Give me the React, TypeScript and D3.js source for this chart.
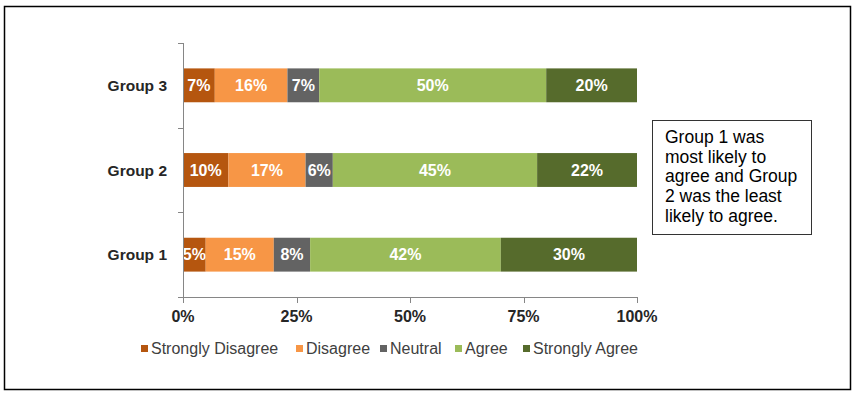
import * as d3 from "d3";
import React, { useEffect, useRef } from "react";

const groups = ["Group 3", "Group 2", "Group 1"];
const responses = ["Strongly Disagree", "Disagree", "Neutral", "Agree", "Strongly Agree"];
const stronglyDisagree = [7, 10, 5];
const disagree = [16, 17, 15];
const neutral = [7, 6, 8];
const agree = [50, 45, 42];
const stronglyAgree = [20, 22, 30];
const xTicks = [0, 25, 50, 75, 100];
const colors = ["#B5560F", "#F79646", "#636363", "#9BBB59", "#566B2C"];
const noteLines = ["Group 1 was", "most likely to", "agree and Group", "2 was the least", "likely to agree."];

const W = 855;
const H = 395;

const App = () => {
  const ref = useRef<SVGSVGElement>(null);

  useEffect(() => {
    const svg = d3.select(ref.current);
    svg.selectAll("*").remove();

    svg.append("rect")
      .attr("x", 4.5).attr("y", 6.5)
      .attr("width", 846).attr("height", 383)
      .attr("fill", "white").attr("stroke", "black").attr("stroke-width", 1.5);

    const x = d3.scaleLinear().domain([0, 100]).range([183, 637]);
    const y = d3.scaleBand().domain(groups).range([43, 297]).paddingInner(0.6).paddingOuter(0.3);
    const yEdges = d3.scaleBand().domain(groups).range([43, 297]);

    const series = [stronglyDisagree, disagree, neutral, agree, stronglyAgree];
    const rows = groups.map((g, i) => {
      const r: any = { group: g };
      responses.forEach((k, j) => (r[k] = series[j][i]));
      return r;
    });
    const stack = d3.stack<any>().keys(responses)(rows);

    const font = "Arial, 'Liberation Sans', sans-serif";

    stack.forEach((layer, j) => {
      const gl = svg.append("g");
      layer.forEach((d) => {
        const yy = y(d.data.group) as number;
        gl.append("rect")
          .attr("x", x(d[0]))
          .attr("y", yy)
          .attr("width", x(d[1]) - x(d[0]))
          .attr("height", y.bandwidth())
          .attr("fill", colors[j]);
        gl.append("text")
          .attr("x", (x(d[0]) + x(d[1])) / 2)
          .attr("y", yy + y.bandwidth() / 2)
          .attr("dy", "0.36em")
          .attr("text-anchor", "middle")
          .attr("font-family", font)
          .attr("font-size", 16)
          .attr("font-weight", "bold")
          .attr("fill", "white")
          .text(`${d[1] - d[0]}%`);
      });
    });

    // y axis
    const axisColor = "#868686";
    svg.append("line")
      .attr("x1", 183.5).attr("x2", 183.5).attr("y1", 43).attr("y2", 297)
      .attr("stroke", axisColor);
    const edges = groups.map((g) => yEdges(g) as number).concat([297]);
    edges.forEach((e) => {
      svg.append("line")
        .attr("x1", 178).attr("x2", 183.5)
        .attr("y1", Math.round(e) + 0.5).attr("y2", Math.round(e) + 0.5)
        .attr("stroke", axisColor);
    });
    groups.forEach((g) => {
      svg.append("text")
        .attr("x", 167)
        .attr("y", (y(g) as number) + y.bandwidth() / 2)
        .attr("dy", "0.36em")
        .attr("text-anchor", "end")
        .attr("font-family", font)
        .attr("font-size", 15.5)
        .attr("font-weight", "bold")
        .attr("fill", "#262626")
        .text(g);
    });

    // x axis
    svg.append("line")
      .attr("x1", 183).attr("x2", 637.5).attr("y1", 297.5).attr("y2", 297.5)
      .attr("stroke", axisColor);
    xTicks.forEach((t) => {
      const xx = Math.round(x(t)) + 0.5;
      svg.append("line")
        .attr("x1", xx).attr("x2", xx).attr("y1", 297).attr("y2", 303)
        .attr("stroke", axisColor);
      svg.append("text")
        .attr("x", x(t))
        .attr("y", 322)
        .attr("text-anchor", "middle")
        .attr("font-family", font)
        .attr("font-size", 16)
        .attr("font-weight", "bold")
        .attr("fill", "#262626")
        .text(`${t}%`);
    });

    // legend
    const legendX = [141, 296, 380, 455, 523];
    responses.forEach((r, j) => {
      svg.append("rect")
        .attr("x", legendX[j]).attr("y", 345)
        .attr("width", 7).attr("height", 7)
        .attr("fill", colors[j]);
      svg.append("text")
        .attr("x", legendX[j] + 10)
        .attr("y", 354)
        .attr("font-family", font)
        .attr("font-size", 16)
        .attr("fill", "#404040")
        .text(r);
    });

    // note box
    svg.append("rect")
      .attr("x", 652.5).attr("y", 120.5)
      .attr("width", 159).attr("height", 114)
      .attr("fill", "white").attr("stroke", "#333").attr("stroke-width", 1);
    noteLines.forEach((l, i) => {
      svg.append("text")
        .attr("x", 665)
        .attr("y", 143 + i * 19.7)
        .attr("font-family", font)
        .attr("font-size", 17.5)
        .attr("fill", "black")
        .text(l);
    });
  }, []);

  return (
    <svg ref={ref} width={W} height={H} style={{ position: "absolute", left: 0, top: 0 }} />
  );
};

export default App;
